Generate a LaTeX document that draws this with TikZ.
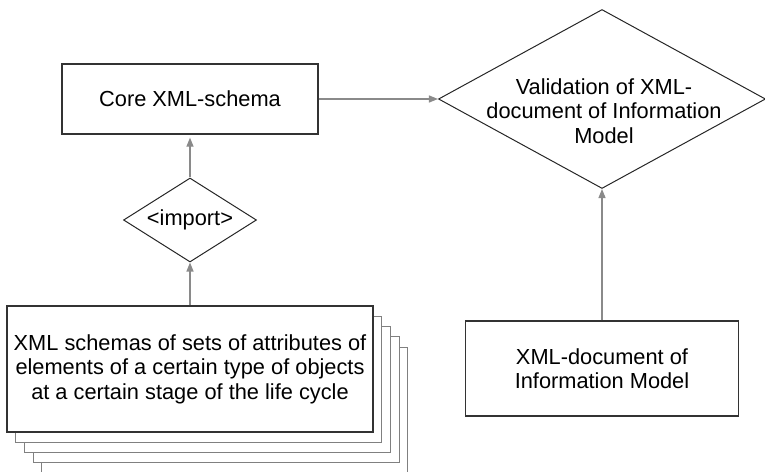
\documentclass[tikz,border=0pt]{standalone}
\usepackage{fontspec}
\setmainfont{Liberation Sans}
\usetikzlibrary{shapes.geometric,arrows.meta}
\definecolor{framegray}{HTML}{333333}
\definecolor{sheetgray}{HTML}{808080}
\definecolor{arrowgray}{HTML}{8A8A8A}

\begin{document}
\begin{tikzpicture}[x=1pt,y=-1pt,
  every node/.style={font=\fontsize{21.8}{24.5}\selectfont},
  box/.style={draw=framegray,line width=1.3pt,fill=white,align=center,inner sep=0pt},
  decision/.style={draw=black!85,line width=1pt,diamond,inner sep=0pt},
  link/.style={draw=arrowgray,line width=1.2pt,-{Triangle[length=9pt,width=7pt]}}]
  \useasboundingbox (0,0) rectangle (765,471);

  % sheets behind the front schema box
  \foreach \k in {4,3,2,1}
    \draw[sheetgray,line width=1pt,fill=white]
      (7+8.7*\k,306+10.3*\k) rectangle (373+8.7*\k,432+10.3*\k);

  \node[box,minimum width=366,minimum height=126] (sets) at (190,369)
    {XML schemas of sets of attributes of\\elements of a certain type of objects\\at a certain stage of the life cycle};

  \node[box,minimum width=256,minimum height=70] (core) at (190,99) {Core XML-schema};
  \node[decision,minimum width=133,minimum height=84,label={center:<import>}] (imp) at (190,220) {};

  \node[decision,minimum width=327,minimum height=179,
    label={[align=center,yshift=-12pt,xshift=2pt]center:Validation of XML-\\document of Information\\Model}] (val) at (602,99) {};
  \node[box,minimum width=273,minimum height=95] (info) at (602,368.5)
    {XML-document of\\Information Model};

  \draw[link] (core) -- (val);
  \draw[link,shorten >=3pt] (imp) -- (core);
  \draw[link] (sets) -- (imp);
  \draw[link] (info) -- (val);
\end{tikzpicture}
\end{document}
